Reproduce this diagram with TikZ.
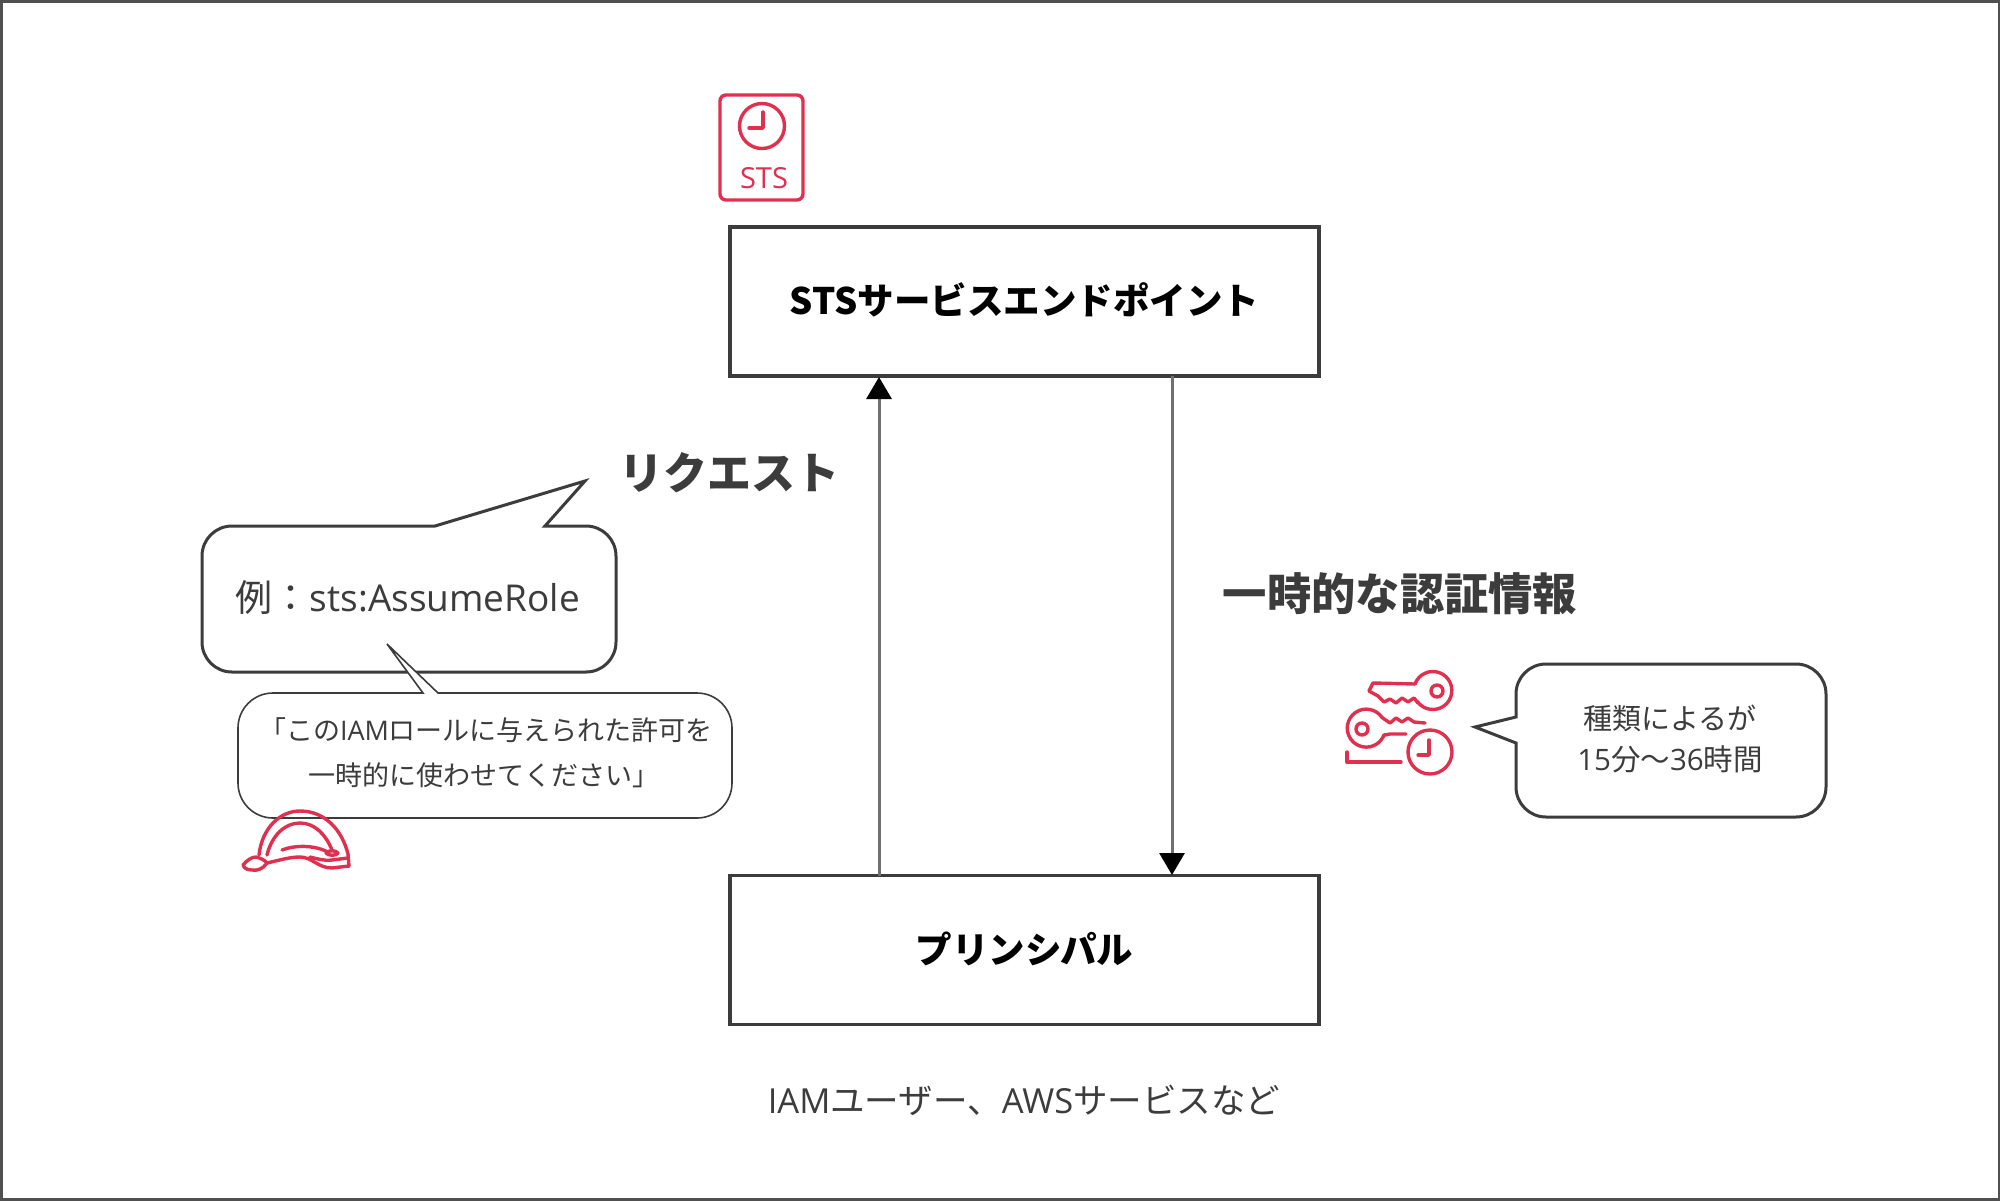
\documentclass[tikz,border=0pt]{standalone}
\usepackage{fontspec}
\setmainfont{Open Sans}
\newfontfamily\cjk{Noto Sans CJK JP}
\newcommand{\fs}[1]{\fontsize{#1}{#1}\selectfont}
\usetikzlibrary{arrows.meta}
\definecolor{ink}{HTML}{3C3C3C}
\definecolor{awsred}{HTML}{E0304F}
\definecolor{flowgray}{HTML}{707070}
\tikzset{
  x=1pt,y=-1pt,
  mainbox/.style={draw=ink,line width=3.4pt,fill=white,minimum width=589pt,minimum height=149pt,inner sep=0pt,align=center,text=black},
  flow/.style={draw=flowgray,line width=3pt,-{Triangle[length=22pt,width=25pt,color=black,fill=black]}},
  bubble/.style={draw=ink,line width=3pt,fill=white,line join=miter},
  thinbubble/.style={draw=ink,line width=1.6pt,fill=white,line join=miter},
  lbl/.style={inner sep=0pt,align=center,text=ink},
  icon/.style={draw=awsred,line width=3.4pt,line cap=round,line join=round},
}
\begin{document}
\begin{tikzpicture}
\useasboundingbox (0,0) rectangle (2000,1200);
\fill[white] (0,0) rectangle (2000,1200);
\draw[draw=ink!90,line width=3pt] (1,1) rectangle (1999,1199);

% boxes
\node[mainbox] (sts) at (1024.5,301.5) {\raisebox{5pt}{\fs{36.5}\bfseries\cjk STSサービスエンドポイント}};
\node[mainbox] (pr) at (1024.5,950) {\raisebox{5pt}{\fs{36.5}\bfseries\cjk プリンシパル}};
\coordinate (upB) at (879,876);
\coordinate (upT) at (879,377);
\coordinate (dnT) at (1172,376);
\coordinate (dnB) at (1172,875);
\draw[flow] (upB) -- (upT);
\draw[flow] (dnT) -- (dnB);

% labels
\node[lbl] (req) at (729,473) {\fs{44}\bfseries\cjk リクエスト};
\node[lbl] (cred) at (1400,594) {\fs{44.3}\bfseries\cjk 一時的な認証情報};
\node[lbl,text=ink] (who) at (1024,1100) {\fs{34.5}IAM{\cjk ユーザー、}AWS{\cjk サービスなど}};

% bubble 1
\draw[bubble] (232,526) -- (435,526) -- (585,481) -- (545,526) -- (586,526)
  arc[start angle=-90,end angle=0,radius=30] -- (616,642)
  arc[start angle=0,end angle=90,radius=30] -- (232,672)
  arc[start angle=90,end angle=180,radius=30] -- (202,556)
  arc[start angle=180,end angle=270,radius=30];
\node[lbl] (ex) at (408,598) {\fs{37}{\cjk 例：}sts:AssumeRole};

% bubble 2
\draw[thinbubble] (273,693) -- (423,693) -- (387,644) -- (438,693) -- (697,693)
  arc[start angle=-90,end angle=0,radius=35] -- (732,783)
  arc[start angle=0,end angle=90,radius=35] -- (273,818)
  arc[start angle=90,end angle=180,radius=35] -- (238,728)
  arc[start angle=180,end angle=270,radius=35];
\node[lbl] (q1) at (486,730) {\fs{27}{\cjk 「この}IAM{\cjk ロールに与えられた許可を}};
\node[lbl] (q2) at (484,775) {\fs{27}\cjk 一時的に使わせてください」};

% bubble 3
\draw[bubble] (1546,664) -- (1796,664)
  arc[start angle=-90,end angle=0,radius=30] -- (1826,787)
  arc[start angle=0,end angle=90,radius=30] -- (1546,817)
  arc[start angle=90,end angle=180,radius=30] -- (1516,743) -- (1475,727) -- (1516,717) -- (1516,694)
  arc[start angle=180,end angle=270,radius=30];
\node[lbl] (t1) at (1670,718) {\fs{29}\cjk 種類によるが};
\node[lbl] (t2) at (1670,759) {\fs{29.5}15{\cjk 分〜}36{\cjk 時間}};

% STS icon
\draw[icon,rounded corners=6pt] (720,95) rectangle (803,200);
\draw[icon] (762,126) circle (22.5);
\draw[icon] (763,112) -- (763,128) -- (749,128);
\node[inner sep=0pt,text=awsred] (stsi) at (764,178) {\fs{29}STS};

% helmet
\draw[icon] (259,855) .. controls (262,828) and (280,811) .. (300,811)
  .. controls (325,811) and (342,830) .. (348,854) -- (349,866);
\draw[icon] (267,855) .. controls (272,835) and (285,823) .. (300,823)
  .. controls (315,823) and (326,835) .. (332,850);
\draw[icon] (282,850) .. controls (295,845) and (312,845) .. (326,851);
\draw[icon] (326,853) .. controls (328,850) and (336,850) .. (338,853) .. controls (337,856) and (328,856) .. (326,853) -- cycle;
\draw[icon] (243,865) .. controls (247,860) and (252,857) .. (256,857)
  .. controls (260,858) and (265,860) .. (267,863)
  .. controls (263,869) and (257,871) .. (252,870) .. controls (247,870) and (244,868) .. (243,865) -- cycle;
\draw[icon] (267,863) .. controls (280,860) and (290,857) .. (300,857)
  .. controls (312,857) and (318,868) .. (332,868) -- (349,866);
\draw[icon] (310,857) .. controls (318,859) and (324,861) .. (332,860) -- (348,858);

% keys icon
\draw[icon] (1415,684) -- (1373,683) -- (1369,691) -- (1378,696) -- (1384,702) -- (1390,699) -- (1396,703) -- (1402,698) -- (1408,702) -- (1414,698) -- (1418,703);
\draw[icon] (1415,684) arc[start angle=200,end angle=505,radius=19];
\draw[icon] (1437,691) circle (6);
\draw[icon] (1382,717.5) arc[start angle=-34,end angle=-340,radius=19];
\draw[icon] (1362,729) circle (6);
\draw[icon] (1382,717.5) -- (1390,723) -- (1396,718) -- (1402,722) -- (1408,718) -- (1414,722) -- (1425,723);
\draw[icon] (1385,735) -- (1390,734) -- (1406,734);
\draw[icon] (1347,752) -- (1347,762) -- (1401,762);
\draw[icon] (1430,752) circle (22);
\draw[icon] (1429,740) -- (1429,755) -- (1418,755);
\end{tikzpicture}
\end{document}
